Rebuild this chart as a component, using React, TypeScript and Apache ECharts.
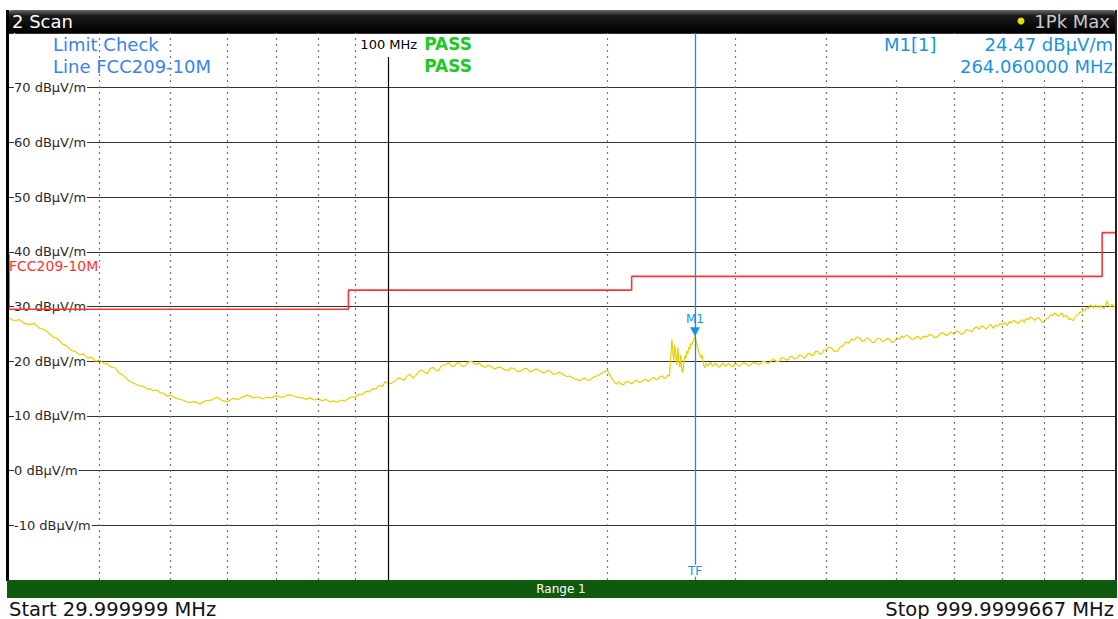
import React, { useEffect, useRef } from "react";
import * as echarts from "echarts";

// ---- data ----
const TRACE_POINTS: [number, number][] = [
  [30, 27.9], [30.5, 27.4], [31, 27.6], [31.5, 26.9], [32, 26.7], [32.5, 26.9], [33, 26.1], [33.5, 25.8],
  [34, 25.2], [34.5, 24.4], [35, 24.1], [35.5, 23.2], [36, 22.8], [36.5, 22.0], [37, 21.8], [37.5, 21.2],
  [38, 21.3], [38.5, 20.6], [39, 20.7], [39.5, 20.0], [40, 20.2], [40.5, 19.6], [41, 19.5], [41.5, 18.9],
  [42, 18.8], [42.5, 17.9], [43, 17.5], [43.5, 16.9], [44, 16.3], [44.5, 16.0], [45, 15.7], [45.5, 15.5],
  [46, 15.4], [46.5, 14.9], [47, 14.9], [47.5, 14.6], [48, 14.7], [48.5, 14.2], [49, 14.1], [49.5, 13.6],
  [50, 13.8], [51, 13.2], [52, 12.9], [53, 12.4], [54, 12.6], [55, 12.2], [56, 12.8], [57, 12.9],
  [58, 13.4], [59, 12.8], [60, 12.6], [61, 13.2], [62, 13.0], [63, 13.5], [64, 13.8], [65, 13.3],
  [66, 13.5], [67, 13.1], [68, 13.4], [69, 13.3], [70, 13.7], [71, 13.4], [72, 13.6], [73, 13.9],
  [74, 13.6], [75, 13.4], [76, 13.3], [77, 13.0], [78, 13.3], [79, 12.9], [80, 13.1], [81, 12.8],
  [82, 13.0], [83, 12.6], [84, 12.7], [85, 12.5], [86, 12.9], [87, 12.7], [88, 13.2], [89, 13.5],
  [90, 13.4], [91, 14.0], [92, 13.9], [93, 14.5], [94, 14.4], [95, 15.0], [96, 14.9], [97, 15.6],
  [98, 15.4], [99, 16.3], [100, 15.9], [101, 16.0], [102, 16.4], [103, 16.9], [104, 16.8], [105, 16.5],
  [106, 17.3], [107, 17.6], [108, 16.9], [109, 17.4], [110, 18.1], [111, 18.4], [112, 18.0], [113, 17.7],
  [114, 18.6], [115, 18.9], [116, 18.4], [117, 18.2], [118, 19.0], [119, 19.3], [120, 19.4], [121, 19.8],
  [122, 19.1], [123, 19.0], [124, 19.6], [125, 19.8], [126, 19.2], [127, 19.0], [128, 19.5], [129, 19.9],
  [130, 20.0], [131, 19.6], [132, 19.4], [133, 19.7], [134, 19.3], [135, 19.0], [136, 18.9], [137, 19.3],
  [138, 19.1], [139, 18.8], [140, 18.6], [141.5, 18.9], [143, 18.8], [144.5, 18.4], [146, 18.3], [147.5, 18.8],
  [149, 18.6], [150.5, 18.1], [152, 18.2], [153.5, 18.6], [155, 18.7], [156.5, 18.0], [158, 18.3], [159.5, 18.6],
  [161, 18.4], [162.5, 18.0], [164, 17.9], [165.5, 18.3], [167, 18.2], [168.5, 17.6], [170, 17.7], [171.5, 18.0],
  [173, 17.8], [174.5, 17.4], [176, 17.2], [177.5, 17.3], [179, 17.0], [180.5, 16.7], [182, 16.6], [183.5, 16.4],
  [185, 16.8], [186.5, 16.9], [188, 16.5], [189.5, 16.6], [191, 17.0], [192.5, 17.2], [194, 17.4], [195.5, 17.6],
  [197, 17.9], [198.5, 18.1], [200, 18.3], [201, 17.9], [202, 17.2], [203, 16.9], [204, 16.3], [205, 16.0],
  [206, 15.8], [207, 16.2], [208, 16.1], [209.5, 15.7], [211, 15.8], [212.5, 16.3], [214, 16.2], [215.5, 15.9],
  [217, 16.0], [218.5, 16.5], [220, 16.4], [221.5, 16.1], [223, 16.2], [224.5, 16.6], [226, 16.7], [227.5, 16.3],
  [229, 16.5], [230.5, 16.9], [232, 17.0], [233.5, 16.6], [235, 16.8], [236.5, 17.2], [238, 17.3], [239.5, 16.9],
  [241, 17.0], [242, 17.4], [243.5, 17.3], [244.6, 21.0], [245.4, 24.0], [246.2, 21.3], [246.9, 20.2],
  [247.7, 23.0], [248.5, 20.8], [249.3, 19.3], [250.1, 22.6], [250.9, 20.0], [251.7, 18.9], [252.5, 21.2],
  [253.3, 18.2], [254.1, 17.9], [254.9, 19.6], [255.7, 21.0], [256.5, 20.5], [257.3, 21.8], [258.1, 21.4],
  [259.0, 22.6], [259.8, 22.2], [260.6, 23.3], [261.4, 23.0], [262.7, 23.8], [264.06, 24.47], [265.0, 23.6],
  [265.6, 23.0], [266.5, 22.4], [267.3, 21.6], [268.2, 21.2], [269.0, 20.6], [270.0, 21.1], [270.7, 20.4],
  [271.5, 19.2], [272.4, 18.8], [273.2, 19.4], [274, 19.6], [275, 19.1], [276, 19.3], [277, 19.8], [278, 19.7],
  [279, 19.1], [280, 19.2], [281.5, 19.6], [283, 19.5], [284.5, 18.9], [286, 19.0], [287.5, 19.5], [289, 19.6],
  [290.5, 19.1], [292, 19.2], [293.5, 19.6], [295, 19.4], [296.5, 19.0], [298, 19.0], [299.5, 19.5], [301, 19.5],
  [303, 19.1], [305, 19.2], [307.5, 19.7], [310, 19.6], [312.5, 19.2], [315, 19.3], [317.5, 19.8], [320, 19.7],
  [322.5, 19.4], [325, 19.5], [327.5, 20.0], [330, 19.9], [332.5, 19.6], [335, 19.8], [337.5, 20.3], [340, 20.2],
  [342.5, 19.9], [345, 20.0], [347.5, 20.6], [350, 20.6], [352.5, 20.2], [355, 20.3], [357.5, 20.9], [360, 20.7],
  [362.5, 20.4], [365, 20.5], [367.5, 21.1], [370, 21.0], [372.5, 20.6], [375, 20.7], [377.5, 21.4], [380, 21.4],
  [382.5, 21.0], [385, 21.2], [387.5, 21.9], [390, 21.7], [392.5, 21.3], [395, 21.4], [397.5, 22.1], [400, 22.0],
  [403.5, 22.6], [407, 22.4], [411, 21.8], [415, 21.9], [418.5, 22.6], [422, 22.8], [426, 23.5], [430, 23.3],
  [433.5, 24.0], [437, 23.9], [441, 24.4], [445, 24.2], [448.5, 23.6], [452, 23.8], [456, 24.3], [460, 23.9],
  [463.5, 23.4], [467, 23.5], [471, 24.2], [475, 24.1], [478.5, 23.6], [482, 23.7], [486, 24.2], [490, 23.9],
  [493.5, 23.4], [497, 23.6], [501, 24.3], [505, 24.0], [508.5, 24.6], [512, 24.3], [516, 24.8], [520, 24.5],
  [525, 24.0], [530, 24.1], [535, 24.6], [540, 24.0], [545, 24.6], [550, 24.4], [555, 24.9], [560, 24.7],
  [565, 24.3], [570, 24.5], [575, 25.1], [580, 25.2], [585, 24.7], [590, 24.9], [595, 25.4], [600, 24.9],
  [605, 25.5], [610, 25.3], [615, 24.9], [620, 25.2], [625, 25.8], [630, 25.6], [635, 25.4], [640, 26.0],
  [645, 26.3], [650, 25.8], [655, 26.5], [660, 26.2], [665, 25.9], [670, 26.4], [675, 26.7], [680, 26.0],
  [685, 26.6], [690, 26.4], [695, 26.9], [700, 26.7], [705, 27.1], [710, 26.5], [715, 27.2], [720, 27.0],
  [725, 27.5], [730, 27.2], [735, 26.9], [740, 27.3], [745, 27.6], [750, 27.1], [755, 27.8], [760, 27.6],
  [765, 28.1], [770, 27.8], [775, 27.5], [780, 27.8], [785, 28.0], [790, 27.5], [795, 27.0], [800, 27.4],
  [805, 27.8], [810, 27.9], [815, 28.5], [820, 28.3], [825, 28.8], [830, 28.6], [835, 28.2], [840, 28.5],
  [845, 28.8], [850, 28.1], [855, 28.4], [860, 28.2], [865, 27.6], [870, 27.8], [875, 27.4], [880, 27.9],
  [885, 28.4], [890, 28.5], [895, 29.0], [900, 28.9], [905, 29.4], [910, 29.3], [915, 29.8], [920, 29.6],
  [925, 30.3], [930, 30.1], [935, 29.7], [940, 30.3], [945, 30.0], [950, 29.8], [955, 30.2], [960, 29.8],
  [965, 29.6], [970, 30.0], [975, 31.0], [980, 30.2], [985, 29.9], [990, 30.4], [995, 30.0], [1000, 30.1],
];

const LIMIT_FREQ_MHZ = [30, 30, 88, 88, 216, 216, 960, 960, 1000];
const LIMIT_LEVEL = [39.5, 29.5, 29.5, 33.0, 33.0, 35.5, 35.5, 43.5, 43.5];

const GRID_FREQ_MHZ = [40, 50, 60, 70, 80, 90, 200, 300, 400, 500, 600, 700, 800, 900];
const Y_MIN = -20;
const Y_MAX = 80;
const Y_STEP = 10;
const Y_UNIT = "dBµV/m";

const MARKER_FREQ = 264.06;
const MARKER_LEVEL = 24.47;
const START_FREQ = 30;
const STOP_FREQ = 1000;

const FONT = "DejaVu Sans";
const BLUE = "#3b7ff0";
const MBLUE = "#1b93dc";

export default function App() {
  const ref = useRef<HTMLDivElement>(null);

  useEffect(() => {
    if (!ref.current) return;
    const chart = echarts.init(ref.current, undefined, { renderer: "svg" });

    const limitData = LIMIT_FREQ_MHZ.map((f, i) => [f, LIMIT_LEVEL[i]]);

    const option: any = {
      animation: false,
      backgroundColor: "#ffffff",
      grid: { left: 9, right: 3, top: 33, bottom: 39, containLabel: false },
      xAxis: {
        type: "log",
        logBase: 10,
        min: START_FREQ,
        max: STOP_FREQ,
        axisLine: { show: false },
        axisTick: { show: false },
        axisLabel: { show: false },
        splitLine: { show: false },
      },
      yAxis: {
        type: "value",
        min: Y_MIN,
        max: Y_MAX,
        interval: Y_STEP,
        axisLine: { show: false },
        axisTick: { show: false },
        axisLabel: {
          inside: true,
          margin: 5,
          color: "#2a2a2a",
          fontFamily: FONT,
          fontSize: 13,
          backgroundColor: "#fff",
          padding: [1, 1, 1, 0],
          formatter: (v: number) => (v === Y_MIN || v === Y_MAX ? "" : `${v} ${Y_UNIT}`),
        },
        splitLine: { lineStyle: { color: "#333", width: 1.2 } },
      },
      series: [
        {
          name: "grid",
          type: "line",
          data: [[START_FREQ, Y_MIN - 5]],
          showSymbol: false,
          lineStyle: { opacity: 0 },
          silent: true,
          z: 1,
          markLine: {
            silent: true,
            symbol: ["none", "none"],
            lineStyle: { type: [2, 4], color: "#7a7a7a", width: 1.2 },
            label: { show: false },
            data: [
              ...GRID_FREQ_MHZ.map((f) => ({ xAxis: f })),
              [
                {
                  coord: [100, 75.6],
                  lineStyle: { type: "solid", color: "#000", width: 1.2 },
                  label: {
                    show: true,
                    position: "start",
                    distance: 6,
                    formatter: "100 MHz",
                    color: "#000",
                    fontFamily: FONT,
                    fontSize: 13,
                  },
                },
                { coord: [100, Y_MIN] },
              ],
            ],
          },
        },
        {
          name: "FCC209-10M",
          type: "line",
          data: limitData,
          showSymbol: false,
          lineStyle: { color: "#ff3434", width: 1.6 },
          z: 3,
          silent: true,
        },
        {
          name: "1Pk Max",
          type: "line",
          data: TRACE_POINTS,
          showSymbol: false,
          lineStyle: { color: "#e6cf00", width: 1.2 },
          z: 4,
          silent: true,
          markLine: {
            silent: true,
            symbol: ["none", "none"],
            lineStyle: { type: "solid", color: "#1590e0", width: 1.3 },
            label: { show: false },
            data: [{ xAxis: MARKER_FREQ }],
          },
          markPoint: {
            silent: true,
            data: [
              {
                coord: [MARKER_FREQ, MARKER_LEVEL],
                symbol: "triangle",
                symbolRotate: 180,
                symbolSize: [10, 9],
                symbolOffset: [0, -5],
                itemStyle: { color: MBLUE },
                label: {
                  show: true,
                  position: "top",
                  distance: 2,
                  formatter: "M1",
                  color: MBLUE,
                  fontFamily: FONT,
                  fontSize: 12,
                },
              },
              {
                coord: [MARKER_FREQ, -18.3],
                symbol: "rect",
                symbolSize: [1, 1],
                itemStyle: { color: "rgba(0,0,0,0)" },
                label: {
                  show: true,
                  position: "inside",
                  formatter: "TF",
                  color: MBLUE,
                  fontFamily: FONT,
                  fontSize: 12,
                  backgroundColor: "#fff",
                },
              },
            ],
          },
        },
      ],
      graphic: [
        {
          type: "rect",
          shape: { x: 7, y: 10, width: 1110, height: 23, r: [5, 5, 0, 0] },
          style: {
            fill: {
              type: "linear", x: 0, y: 0, x2: 0, y2: 1,
              colorStops: [
                { offset: 0, color: "#6a6a6a" },
                { offset: 0.25, color: "#1a1a1a" },
                { offset: 1, color: "#000" },
              ],
            },
          },
          z: 10,
        },
        { type: "rect", shape: { x: 868, y: 34, width: 246, height: 44 }, style: { fill: "#fff" }, z: 9 },
        { type: "rect", shape: { x: 6, y: 10, width: 3, height: 571 }, style: { fill: "#000" }, z: 10 },
        { type: "rect", shape: { x: 1115, y: 10, width: 2, height: 571 }, style: { fill: "#222" }, z: 10 },
        { type: "text", x: 12, y: 21, style: { text: "2 Scan", fill: "#fff", font: `18px '${FONT}'`, textVerticalAlign: "middle" }, z: 11 },
        { type: "circle", shape: { cx: 1021, cy: 21, r: 3.5 }, style: { fill: "#f2dc00" }, z: 11 },
        { type: "text", x: 1110, y: 21, style: { text: "1Pk Max", fill: "#c8c8c8", font: `18px '${FONT}'`, textAlign: "right", textVerticalAlign: "middle" }, z: 11 },
        { type: "rect", shape: { x: 7, y: 580, width: 1110, height: 18 }, style: { fill: "#0f5a0f" }, z: 10 },
        { type: "text", x: 561, y: 589, style: { text: "Range 1", fill: "#fff", font: `12px '${FONT}'`, textAlign: "center", textVerticalAlign: "middle" }, z: 11 },
        { type: "text", x: 9, y: 609, style: { text: "Start 29.999999 MHz", fill: "#111", font: `19.5px '${FONT}'`, textVerticalAlign: "middle" }, z: 11 },
        { type: "text", x: 1114, y: 609, style: { text: "Stop 999.9999667 MHz", fill: "#111", font: `19.5px '${FONT}'`, textAlign: "right", textVerticalAlign: "middle" }, z: 11 },
        { type: "text", x: 53, y: 44, style: { text: "Limit Check", fill: BLUE, font: `18px '${FONT}'`, textVerticalAlign: "middle" }, z: 11 },
        { type: "text", x: 53, y: 66, style: { text: "Line FCC209-10M", fill: BLUE, font: `18px '${FONT}'`, textVerticalAlign: "middle" }, z: 11 },
        { type: "text", x: 472, y: 44, style: { text: "PASS", fill: "#22c822", font: `bold 17px '${FONT}'`, textAlign: "right", textVerticalAlign: "middle" }, z: 11 },
        { type: "text", x: 472, y: 66, style: { text: "PASS", fill: "#22c822", font: `bold 17px '${FONT}'`, textAlign: "right", textVerticalAlign: "middle" }, z: 11 },
        { type: "text", x: 884, y: 44, style: { text: "M1[1]", fill: MBLUE, font: `18px '${FONT}'`, textVerticalAlign: "middle" }, z: 11 },
        { type: "text", x: 1113, y: 44, style: { text: `${MARKER_LEVEL.toFixed(2)} ${Y_UNIT}`, fill: MBLUE, font: `18px '${FONT}'`, textAlign: "right", textVerticalAlign: "middle" }, z: 11 },
        { type: "text", x: 1113, y: 66, style: { text: `${MARKER_FREQ.toFixed(6)} MHz`, fill: MBLUE, font: `18px '${FONT}'`, textAlign: "right", textVerticalAlign: "middle" }, z: 11 },
        { type: "text", x: 9, y: 266, style: { text: "FCC209-10M", fill: "#ff3434", font: `14px '${FONT}'`, textVerticalAlign: "middle" }, z: 11 },
      ],
    };

    chart.setOption(option);
    return () => chart.dispose();
  }, []);

  return (
    <div
      ref={ref}
      style={{ position: "fixed", left: 0, top: 0, width: 1118, height: 619, background: "#fff" }}
    />
  );
}
